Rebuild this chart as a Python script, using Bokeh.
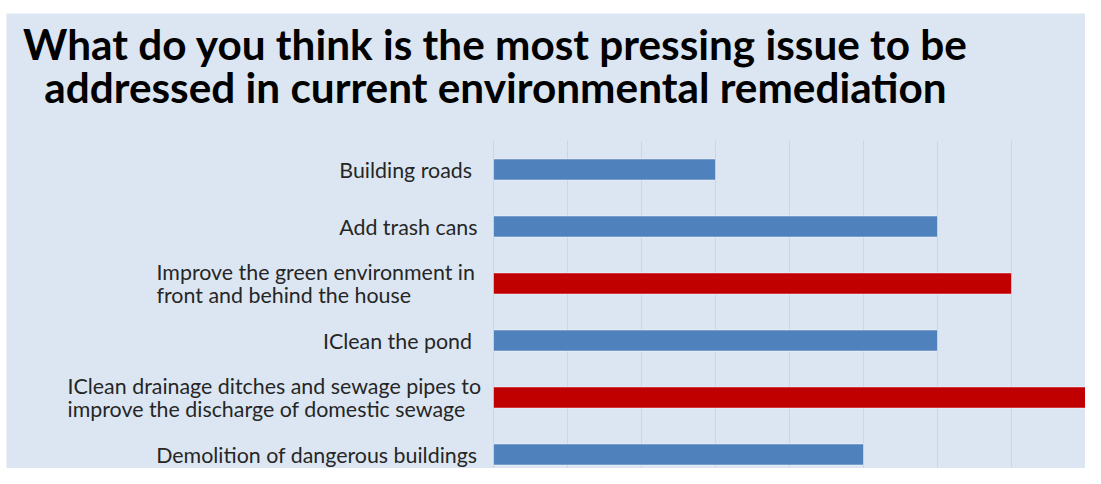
from bokeh.plotting import figure
from bokeh.models import Range1d, ColumnDataSource, Spacer
from bokeh.layouts import column, row
from bokeh.core.properties import value
from bokeh.embed import file_html
from bokeh.resources import INLINE

# ---- data ----
categories = [
    "Building roads ",
    "Add trash cans",
    "Improve the green environment in\nfront and behind the house",
    "IClean the pond ",
    "IClean drainage ditches and sewage pipes to\nimprove the discharge of domestic sewage",
    "Demolition of dangerous buildings",
]
values = [3, 6, 7, 6, 8, 5]
bar_colors = ["#4f81bd", "#4f81bd", "#c00000", "#4f81bd", "#c00000", "#4f81bd"]
x_ticks = [0, 1, 2, 3, 4, 5, 6, 7, 8]
title_lines = [
    "What do you think is the most pressing issue to be",
    "addressed in current environmental remediation",
]

BG = "#dce6f2"
W, H = 1079, 455
TOP = 14          # figure top in the picture
PX_X = 74.0       # pixels per x unit
PX_Y = 57.0       # pixels per category
X0_PX = 487       # pixel of x=0 inside the figure
Y0_PX = 156       # pixel of first category centre inside the figure

positions = list(range(len(categories)))

p = figure(
    width=W, height=H,
    x_range=Range1d(-X0_PX / PX_X, (W - X0_PX) / PX_X),
    y_range=Range1d((H - Y0_PX) / PX_Y, -Y0_PX / PX_Y),
    output_backend="svg", toolbar_location=None,
    min_border=0,
)
p.background_fill_color = BG
p.border_fill_color = BG
p.outline_line_color = None
p.axis.visible = False
p.grid.visible = False

# vertical grid lines over the plot area
p.segment(x0=x_ticks, x1=x_ticks, y0=-0.5, y1=(H - Y0_PX) / PX_Y,
          line_color="#cdd5df", line_width=1)

bars = ColumnDataSource(dict(y=positions, right=values, color=bar_colors))
p.hbar(y="y", right="right", left=0, height=21 / PX_Y, fill_color="color",
       line_color="white", line_alpha=0.45, line_width=1, source=bars)

# category labels
single = [i for i in positions if "\n" not in categories[i]]
multi = [i for i in positions if "\n" in categories[i]]
multi_left = {2: -337, 4: -426}

lab_style = dict(text_font=value("Lato"), text_font_size=value("21.4px"),
                 text_color="#262626", text_baseline="middle")
p.text(x=[0] * len(single), y=single, text=[categories[i] for i in single],
       x_offset=-16, text_align="right", **lab_style)
p.text(x=[0] * len(multi), y=multi, text=[categories[i] for i in multi],
       x_offset=[multi_left[i] for i in multi], text_align="left",
       text_line_height=0.85, **lab_style)

# title: two centred lines
title_mid = [44, 87]   # vertical centres of the two lines in the picture
p.text(x=[2 / PX_X] * 2,
       y=[(m - TOP - Y0_PX) / PX_Y for m in title_mid],
       text=title_lines, text_align="center", text_baseline="middle",
       text_font=value("Lato"), text_font_style="bold",
       text_font_size=value("42.3px"), text_color="#000000")

layout = column(Spacer(width=10, height=TOP - 1), row(Spacer(width=6, height=10), p))
open("out.html", "w").write(file_html(layout, INLINE))
